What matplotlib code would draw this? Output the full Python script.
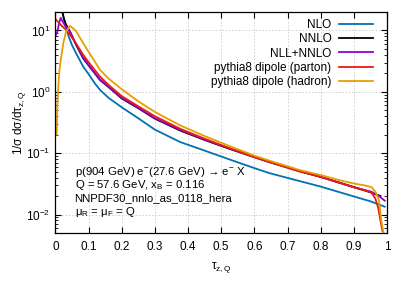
import numpy as np
import matplotlib
matplotlib.use("Agg")
import matplotlib.pyplot as plt
from matplotlib.ticker import LogLocator, NullFormatter

plt.rcParams['font.family'] = ['Liberation Sans', 'DejaVu Sans']
plt.rcParams['mathtext.fontset'] = 'custom'
plt.rcParams['mathtext.rm'] = 'Liberation Sans'
plt.rcParams['mathtext.it'] = 'Liberation Sans:italic'
plt.rcParams['mathtext.bf'] = 'Liberation Sans:bold'
plt.rcParams['font.size'] = 8.5

# -- data (tau_z,Q, 1/sigma dsigma/dtau)
nlo_x = [0.016, 0.022, 0.03, 0.04, 0.05, 0.062, 0.084, 0.1, 0.12, 0.135, 0.16, 0.2,
         0.25, 0.3, 0.376, 0.45, 0.525, 0.6, 0.647, 0.737, 0.8, 0.9, 0.95, 0.993]
nlo_y = [28, 19, 12.5, 8.0, 5.8, 4.3, 2.57, 1.95, 1.35, 1.07, 0.8, 0.56,
         0.37, 0.242, 0.152, 0.11, 0.079, 0.057, 0.047, 0.035, 0.0285, 0.0197, 0.0164, 0.0134]

nnlo_x = [0.016, 0.02, 0.025, 0.032, 0.044, 0.062, 0.084, 0.1, 0.135, 0.16, 0.2, 0.25,
          0.3, 0.376, 0.45, 0.526, 0.6, 0.647, 0.737, 0.8, 0.9, 0.95, 0.98]
nnlo_y = [28, 22, 16, 12.5, 9.6, 5.9, 3.5, 2.7, 1.55, 1.2, 0.78, 0.54,
          0.365, 0.234, 0.164, 0.117, 0.086, 0.071, 0.051, 0.041, 0.028, 0.023, 0.020]

nll_x = [0.002, 0.006, 0.011, 0.016, 0.022, 0.03, 0.044, 0.062, 0.084, 0.1, 0.135, 0.2,
         0.25, 0.3, 0.376, 0.45, 0.526, 0.6, 0.737, 0.8, 0.898, 0.953, 0.978, 0.993]
nll_y = [8.5, 9.5, 13.0, 16.0, 14.0, 11.8, 9.6, 6.0, 3.6, 2.75, 1.58, 0.8,
         0.55, 0.372, 0.24, 0.166, 0.119, 0.087, 0.051, 0.041, 0.028, 0.0235, 0.0195, 0.0168]

parton_x = [0.002, 0.007, 0.02, 0.03, 0.044, 0.062, 0.084, 0.1, 0.135, 0.16, 0.2, 0.25,
            0.3, 0.376, 0.45, 0.526, 0.6, 0.647, 0.737, 0.8, 0.898, 0.953, 0.965, 0.973,
            0.98, 0.986]
parton_y = [15, 14, 11.8, 10.5, 8.5, 6.2, 4.0, 3.05, 1.76, 1.3, 0.85, 0.58,
            0.4, 0.25, 0.172, 0.12, 0.086, 0.071, 0.05, 0.041, 0.028, 0.023, 0.018, 0.013,
            0.008, 0.0054]

hadron_x = [0.004, 0.006, 0.009, 0.012, 0.017, 0.024, 0.032, 0.044, 0.052, 0.062, 0.084, 0.1,
            0.135, 0.16, 0.2, 0.25, 0.3, 0.376, 0.45, 0.526, 0.6, 0.647, 0.737, 0.8, 0.85,
            0.9, 0.93, 0.953, 0.966, 0.976, 0.983, 0.99]
hadron_y = [0.2, 0.6, 1.2, 2.2, 3.5, 6.2, 9.5, 11.9, 11.0, 9.8, 6.2, 4.5,
            2.27, 1.65, 1.1, 0.7, 0.47, 0.284, 0.19, 0.13, 0.091, 0.075, 0.053, 0.044, 0.037,
            0.032, 0.030, 0.028, 0.023, 0.0168, 0.0078, 0.0048]

xticks = [0, 0.1, 0.2, 0.3, 0.4, 0.5, 0.6, 0.7, 0.8, 0.9, 1]
xtick_labels = ['0', '0.1', '0.2', '0.3', '0.4', '0.5', '0.6', '0.7', '0.8', '0.9', '1']

info_lines = ['p(904 GeV) e$^{-}$(27.6 GeV) → e$^{-}$ X',
              r'Q = 57.6 GeV, x$_{\mathrm{B}}$ = 0.116',
              'NNPDF30_nnlo_as_0118_hera',
              r'μ$_{\mathrm{R}}$ = μ$_{\mathrm{F}}$ = Q']

fig = plt.figure(figsize=(4.07, 2.85), dpi=100)
ax = fig.add_axes([0.136, 0.1825, 0.815, 0.7755])

ax.plot(nlo_x, nlo_y, color='#0072b2', lw=1.3, label='NLO')
ax.plot(nnlo_x, nnlo_y, color='black', lw=1.3, label='NNLO')
ax.plot(nll_x, nll_y, color='#9400d3', lw=1.3, label='NLL+NNLO')
ax.plot(parton_x, parton_y, color='#e51e10', lw=1.3, label='pythia8 dipole (parton)')
ax.plot(hadron_x, hadron_y, color='#e69f00', lw=1.3, label='pythia8 dipole (hadron)')

ax.set_yscale('log')
ax.set_xlim(0, 1)
ax.set_ylim(0.005, 20)
ax.set_xticks(xticks)
ax.set_xticklabels(xtick_labels)
ax.yaxis.set_major_locator(LogLocator(base=10, numticks=10))
ax.yaxis.set_minor_locator(LogLocator(base=10, subs=np.arange(2, 10), numticks=10))
ax.yaxis.set_minor_formatter(NullFormatter())
ax.tick_params(which='both', direction='in', top=True, right=True)
ax.tick_params(which='major', length=4.5, width=0.8)
ax.tick_params(which='minor', length=2.5, width=0.6)
ax.tick_params(axis='x', pad=6)

ax.grid(True, which='major', color='#cccccc', linestyle=(0, (2, 2)), lw=0.6)
for s in ax.spines.values():
    s.set_linewidth(0.9)

ax.set_xlabel(r'τ$_{\mathrm{z,Q}}$', labelpad=5)
ax.set_ylabel(r'1/σ dσ/dτ$_{\mathrm{z,Q}}$', labelpad=-1)

# info text block, lower left
for i, t in enumerate(info_lines):
    ax.text(0.058, 0.277 - i * 0.06, t, transform=ax.transAxes, va='center', fontsize=8.2)

ax.legend(loc='upper right', bbox_to_anchor=(1, 1.032), frameon=False, markerfirst=False,
          handlelength=2.9, handletextpad=0.6, labelspacing=0.19, borderaxespad=0.8)

fig.savefig('out.png', dpi=100)
